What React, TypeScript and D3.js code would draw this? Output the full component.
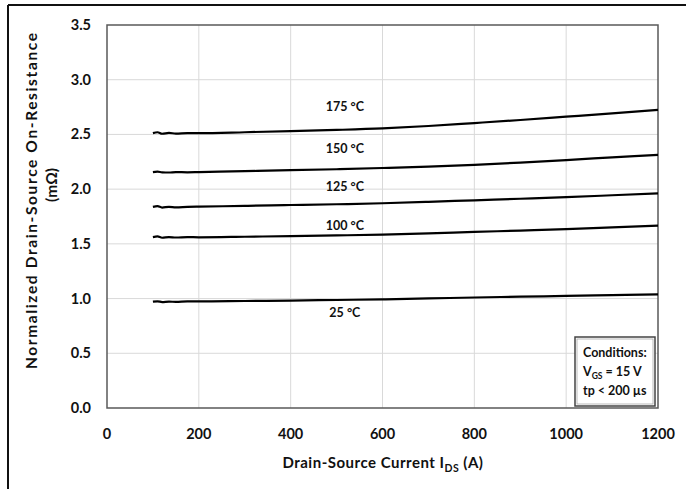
import React from "react";
import * as d3 from "d3";

// Drain-source current samples (A)
const currentA = [100, 110, 120, 135, 150, 175, 200, 300, 400, 500, 600, 700, 800, 900, 1000, 1100, 1200];

// Normalized on-resistance per junction temperature
const temps = ["25 °C", "100 °C", "125 °C", "150 °C", "175 °C"];
const r25 = [0.972, 0.975, 0.968, 0.972, 0.97, 0.974, 0.974, 0.978, 0.982, 0.987, 0.993, 1.001, 1.01, 1.017, 1.024, 1.031, 1.039];
const r100 = [1.562, 1.568, 1.556, 1.562, 1.558, 1.562, 1.56, 1.565, 1.571, 1.577, 1.585, 1.596, 1.609, 1.621, 1.634, 1.65, 1.667];
const r125 = [1.838, 1.845, 1.832, 1.838, 1.834, 1.838, 1.84, 1.847, 1.855, 1.862, 1.871, 1.884, 1.898, 1.912, 1.927, 1.944, 1.962];
const r150 = [2.156, 2.16, 2.154, 2.152, 2.156, 2.154, 2.156, 2.164, 2.173, 2.182, 2.193, 2.206, 2.222, 2.243, 2.266, 2.29, 2.314];
const r175 = [2.512, 2.52, 2.506, 2.514, 2.508, 2.512, 2.512, 2.52, 2.53, 2.541, 2.555, 2.577, 2.604, 2.632, 2.662, 2.692, 2.724];
const seriesValues = [r25, r100, r125, r150, r175];

// Label anchor (x in A, y in normalized units) for each temperature
const labelX = 518;
const labelY = [0.83, 1.63, 1.98, 2.33, 2.71];

const xTicks = [0, 200, 400, 600, 800, 1000, 1200];
const yTicks = [0, 0.5, 1.0, 1.5, 2.0, 2.5, 3.0, 3.5];

const W = 686;
const H = 489;
const plot = { left: 107, right: 658, top: 25, bottom: 408 };
const FONT = "Lato, 'Open Sans', sans-serif";

export default function App() {
  const x = d3.scaleLinear().domain([0, 1200]).range([plot.left, plot.right]);
  const y = d3.scaleLinear().domain([0, 3.5]).range([plot.bottom, plot.top]);
  const line = d3
    .line<number>()
    .x((_, i) => x(currentA[i]))
    .y((d) => y(d))
    .curve(d3.curveMonotoneX);

  return (
    <svg
      width={W}
      height={H}
      style={{ position: "absolute", left: 0, top: 0, background: "#fff" }}
      fontFamily={FONT}
    >
      {/* outer frame */}
      <line x1={8} y1={5} x2={W} y2={5} stroke="#111" strokeWidth={2} />
      <line x1={8} y1={5} x2={8} y2={H} stroke="#111" strokeWidth={2} />

      {/* gridlines */}
      {yTicks.slice(1, -1).map((t) => (
        <line key={"gy" + t} x1={plot.left} x2={plot.right} y1={y(t)} y2={y(t)} stroke="#d9d9d9" strokeWidth={1} />
      ))}
      {xTicks.slice(1, -1).map((t) => (
        <line key={"gx" + t} x1={x(t)} x2={x(t)} y1={plot.top} y2={plot.bottom} stroke="#d9d9d9" strokeWidth={1} />
      ))}

      {/* plot area border */}
      <rect
        x={plot.left}
        y={plot.top}
        width={plot.right - plot.left}
        height={plot.bottom - plot.top}
        fill="none"
        stroke="#595959"
        strokeWidth={1.5}
      />

      {/* curves */}
      {seriesValues.map((vals, i) => (
        <path key={temps[i]} d={line(vals) ?? ""} fill="none" stroke="#000" strokeWidth={2.2} strokeLinejoin="round" />
      ))}

      {/* curve labels */}
      {temps.map((t, i) => (
        <text key={"l" + t} x={x(labelX)} y={y(labelY[i])} textAnchor="middle" fontSize={12.5} fontWeight={700} fill="#111">
          {t}
        </text>
      ))}

      {/* y tick labels */}
      {yTicks.map((t) => (
        <text key={"yt" + t} x={91} y={y(t) + 5} textAnchor="end" fontSize={14.5} fontWeight={700} fill="#111">
          {d3.format(".1f")(t)}
        </text>
      ))}

      {/* x tick labels */}
      {xTicks.map((t) => (
        <text key={"xt" + t} x={x(t)} y={439} textAnchor="middle" fontSize={14.5} fontWeight={700} fill="#111">
          {t}
        </text>
      ))}

      {/* axis titles */}
      <text x={383} y={468} textAnchor="middle" fontSize={15} fontWeight={700} fill="#111" letterSpacing={0.5}>
        Drain-Source Current I
        <tspan fontSize={10.5} dy={4}>DS</tspan>
        <tspan dy={-4}> (A)</tspan>
      </text>
      <text
        transform="translate(37,201) rotate(-90)"
        textAnchor="middle"
        fontSize={15.5}
        fontWeight={700}
        fill="#111"
        textLength={336}
        lengthAdjust="spacing"
      >
        Normalized Drain-Source On-Resistance
      </text>
      <text transform="translate(57,185) rotate(-90)" textAnchor="middle" fontSize={15.5} fontWeight={700} fill="#111">
        (mΩ)
      </text>

      {/* conditions box */}
      <rect x={575} y={337} width={80} height={69} fill="#fff" stroke="#444" strokeWidth={1.5} />
      <rect x={577} y={339} width={76} height={65} fill="none" stroke="#aaa" strokeWidth={0.8} />
      <text x={583} y={357} fontSize={12.5} fontWeight={700} fill="#111">Conditions:</text>
      <text x={583} y={376} fontSize={12.5} fontWeight={700} fill="#111">
        V<tspan fontSize={8.5} dy={3}>GS</tspan>
        <tspan dy={-3}> = 15 V</tspan>
      </text>
      <text x={583} y={395} fontSize={12.5} fontWeight={700} fill="#111">tp &lt; 200 µs</text>
    </svg>
  );
}
